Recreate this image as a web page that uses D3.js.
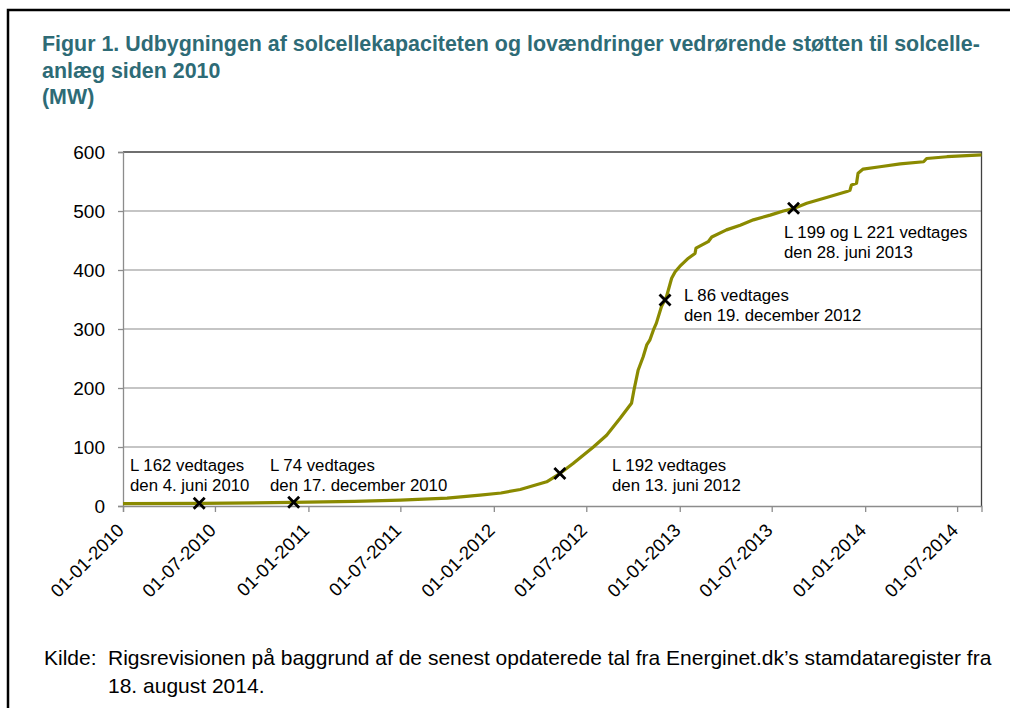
<!DOCTYPE html>
<html>
<head>
<meta charset="utf-8">
<script src="https://cdnjs.cloudflare.com/ajax/libs/d3/7.8.5/d3.min.js"></script>
<style>
  body { margin: 0; background: #fff; }
  svg { display: block; font-family: "Liberation Sans", Arial, sans-serif; }
</style>
</head>
<body>
<script>
// capacity (MW)
var dates = ["2010-01-01","2010-06-01","2010-12-01","2011-04-01","2011-07-01","2011-10-01",
  "2011-12-05","2012-01-15","2012-02-22","2012-04-14","2012-05-10","2012-06-05","2012-07-15",
  "2012-08-10","2012-09-06","2012-09-28","2012-10-03","2012-10-11","2012-10-21","2012-10-28",
  "2012-11-03","2012-11-10","2012-11-16","2012-11-26","2012-12-06","2012-12-16","2012-12-23",
  "2013-01-01","2013-01-18","2013-01-31","2013-02-02","2013-02-26","2013-03-05","2013-04-03",
  "2013-04-30","2013-05-26","2013-06-28","2013-07-24","2013-08-13","2013-09-08","2013-10-17",
  "2013-11-26","2013-12-02","2013-12-05","2013-12-15","2013-12-18","2013-12-28","2014-01-30",
  "2014-03-11","2014-04-26","2014-05-02","2014-06-11","2014-08-18"];
var mw = [4,4.5,6,8,10,13.5,18.5,22,28,41,55,72,100,120,149,174,197,230,253,273,281,298,310,
  338,355,386,397,406,420,428,437,448,456,468,476,485,493,500,504,513,523,533,535,544,547,564,
  571,575,580,583.5,589,592,595];

// law changes (cross markers)
var markDates = ["2010-05-31","2010-12-03","2012-05-10","2012-12-03","2013-08-13"];
var markValues = [4.5, 6.3, 55, 349, 504.5];
var markLabels = [
  ["L 162 vedtages", "den 4. juni 2010"],
  ["L 74 vedtages", "den 17. december 2010"],
  ["L 192 vedtages", "den 13. juni 2012"],
  ["L 86 vedtages", "den 19. december 2012"],
  ["L 199 og L 221 vedtages", "den 28. juni 2013"]
];

var yTicks = [0, 100, 200, 300, 400, 500, 600];
var xTicks = ["2010-01-01","2010-07-01","2011-01-01","2011-07-01","2012-01-01","2012-07-01",
  "2013-01-01","2013-07-01","2014-01-01","2014-07-01"];

var titleLines = ["Figur 1. Udbygningen af solcellekapaciteten og lovændringer vedrørende støtten til solcelle-",
  "anlæg siden 2010", "(MW)"];

(function() {
var parse = d3.timeParse("%Y-%m-%d");
var fmt = d3.timeFormat("%d-%m-%Y");

var data = dates.map(function(d, i) { return {date: parse(d), value: mw[i]}; });
var marks = markDates.map(function(d, i) { return {date: parse(d), value: markValues[i], label: markLabels[i]}; });

var W = 1010, H = 708;
var pl = 123, pr = 981.5, pt = 152, pb = 506;

var svg = d3.select("body").append("svg")
    .attr("width", W)
    .attr("height", H);

// outer frame
svg.append("rect")
    .attr("x", 8).attr("y", 10)
    .attr("width", 1100).attr("height", 800)
    .attr("fill", "none")
    .attr("stroke", "#000")
    .attr("stroke-width", 2.5);

svg.selectAll(".title")
    .data(titleLines)
  .enter().append("text")
    .attr("class", "title")
    .attr("x", 42)
    .attr("y", function(d, i) { return 51 + i * 26.5; })
    .attr("fill", "#2E6B76")
    .attr("font-weight", "bold")
    .attr("font-size", "21.4px")
    .text(function(d) { return d; });

var x = d3.scaleTime()
    .domain([parse("2010-01-01"), parse("2014-08-18")])
    .range([pl, pr]);

var y = d3.scaleLinear()
    .domain([0, 600])
    .range([pb, pt]);

// gridlines
svg.append("g")
    .selectAll("line")
    .data(yTicks.filter(function(d) { return d > 0 && d < 600; }))
  .enter().append("line")
    .attr("x1", pl).attr("x2", pr)
    .attr("y1", function(d) { return y(d); })
    .attr("y2", function(d) { return y(d); })
    .attr("stroke", "#8c8c8c")
    .attr("stroke-width", 1.2);

// plot frame top + right
svg.append("path")
    .attr("d", "M" + pl + "," + y(600) + "H" + pr + "V" + pb)
    .attr("fill", "none")
    .attr("stroke", "#404040")
    .attr("stroke-width", 1.3);

var yAxis = d3.axisLeft(y)
    .tickValues(yTicks)
    .tickSize(5)
    .tickPadding(13);

var gy = svg.append("g")
    .attr("transform", "translate(" + pl + ",0)")
    .call(yAxis);
gy.select(".domain").attr("stroke", "#8c8c8c").attr("stroke-width", 1.3);
gy.selectAll(".tick line").attr("stroke", "#8c8c8c").attr("stroke-width", 1.3);
gy.selectAll(".tick text")
    .attr("font-size", "19px")
    .attr("font-family", "Liberation Sans, Arial, sans-serif")
    .attr("fill", "#000");

var xAxis = d3.axisBottom(x)
    .tickValues(xTicks.map(parse))
    .tickSize(6)
    .tickFormat(fmt);

var gx = svg.append("g")
    .attr("transform", "translate(0," + pb + ")")
    .call(xAxis);
gx.select(".domain").attr("stroke", "#8c8c8c").attr("stroke-width", 1.3);
gx.selectAll(".tick line").attr("stroke", "#8c8c8c").attr("stroke-width", 1.3);
gx.selectAll(".tick text")
    .attr("font-size", "18.5px")
    .attr("font-family", "Liberation Sans, Arial, sans-serif")
    .attr("fill", "#000")
    .attr("text-anchor", "end")
    .attr("x", 0).attr("y", 0).attr("dy", "0.35em")
    .attr("transform", "translate(-3,21) rotate(-45)");

// capacity line
var line = d3.line()
    .x(function(d) { return x(d.date); })
    .y(function(d) { return y(d.value); });

svg.append("path")
    .datum(data)
    .attr("d", line)
    .attr("fill", "none")
    .attr("stroke", "#8a8a00")
    .attr("stroke-width", 3.2)
    .attr("stroke-linejoin", "round");

// markers
var m = svg.append("g").selectAll("g")
    .data(marks)
  .enter().append("g")
    .attr("transform", function(d) { return "translate(" + x(d.date) + "," + y(d.value) + ")"; });
m.append("path")
    .attr("d", "M-5.5,-5.5L5.5,5.5M-5.5,5.5L5.5,-5.5")
    .attr("stroke", "#000")
    .attr("stroke-width", 2.8);

// label layout: [x, baseline of first line]
var labelPos = [[130, 471], [270, 471], [612, 471], [684, 301], [784, 238]];
var ann = svg.append("g").selectAll("text")
    .data(marks)
  .enter().append("text")
    .attr("font-size", "16.8px")
    .attr("fill", "#000");
ann.each(function(d, i) {
  d3.select(this).selectAll("tspan")
      .data(d.label)
    .enter().append("tspan")
      .attr("x", labelPos[i][0])
      .attr("y", function(t, j) { return labelPos[i][1] + j * 19.5; })
      .text(function(t) { return t; });
});

// source
svg.append("text")
    .attr("x", 44).attr("y", 665)
    .attr("font-size", "21px")
    .text("Kilde:");
svg.append("text")
    .attr("x", 108).attr("y", 665)
    .attr("font-size", "21px")
    .text("Rigsrevisionen på baggrund af de senest opdaterede tal fra Energinet.dk’s stamdataregister fra");
svg.append("text")
    .attr("x", 108).attr("y", 693)
    .attr("font-size", "21px")
    .text("18. august 2014.");
})();
</script>
</body>
</html>
